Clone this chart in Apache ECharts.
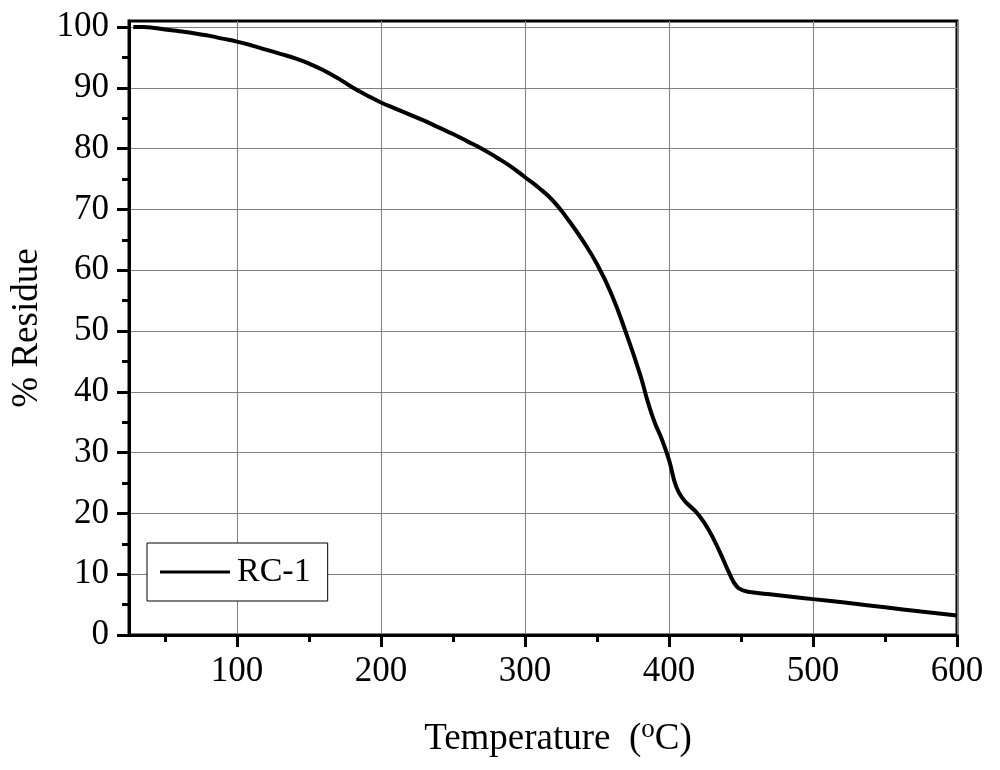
<!DOCTYPE html>
<html>
<head>
<meta charset="utf-8">
<script src="https://cdn.jsdelivr.net/npm/echarts@6/dist/echarts.min.js"></script>
<style>html,body{margin:0;padding:0;background:#fff}#chart{width:1000px;height:770px}</style>
</head>
<body>
<div id="chart"></div>
<script>
// Temperature (°C)
var temperature = [28, 35, 40, 50, 60, 70, 80, 90, 100, 110, 120, 130, 140, 150, 160, 170, 180, 190, 200, 210, 220, 230, 240, 250, 260, 270, 280, 290, 300, 310, 320, 330, 340, 350, 360, 370, 380, 385, 390, 395, 400, 405, 410, 415, 420, 427, 435, 442, 447, 452, 460, 470, 485, 500, 525, 550, 575, 600];
// % Residue
var residue = [100.0, 100.0, 99.95, 99.6, 99.3, 99.0, 98.6, 98.1, 97.6, 97.0, 96.3, 95.6, 94.9, 94.0, 92.9, 91.6, 90.1, 88.8, 87.6, 86.6, 85.6, 84.6, 83.5, 82.4, 81.2, 80.0, 78.6, 77.1, 75.3, 73.5, 71.3, 68.3, 64.9, 61.0, 56.1, 49.8, 42.8, 38.6, 35.0, 32.2, 28.8, 24.4, 22.3, 21.1, 19.9, 17.5, 13.8, 10.1, 8.0, 7.3, 6.95, 6.7, 6.3, 5.9, 5.25, 4.55, 3.85, 3.2];
var xMajorTicks = [100, 200, 300, 400, 500, 600];
var xMinorTicks = [50, 150, 250, 350, 450, 550];
var yMajorTicks = [0, 10, 20, 30, 40, 50, 60, 70, 80, 90, 100];
var yMinorTicks = [5, 15, 25, 35, 45, 55, 65, 75, 85, 95];
var seriesName = 'RC-1';

var data = temperature.map(function (t, i) { return [t, residue[i]]; });
var FONT = 'Liberation Serif';
var chart = echarts.init(document.getElementById('chart'));
chart.setOption({
  backgroundColor: '#fff',
  animation: false,
  grid: { left: 129, right: 43, top: 21, bottom: 135, show: true, borderColor: '#000', borderWidth: 3, backgroundColor: 'transparent' },
  legend: {
    left: 147, top: 543,
    padding: [12, 17, 12, 13],
    borderColor: '#000', borderWidth: 1, borderRadius: 0,
    backgroundColor: '#fff',
    icon: 'rect',
    itemWidth: 70, itemHeight: 3, itemGap: 5,
    textStyle: { fontFamily: FONT, fontSize: 34, color: '#000', padding: [0, 0, 0, 2] },
    data: [seriesName]
  },
  xAxis: [{
    type: 'value', min: 25, max: 600, position: 'bottom',
    name: 'Temperature  ({sup|o}C)', nameLocation: 'middle', nameGap: 81,
    nameTextStyle: { fontFamily: FONT, fontSize: 37, color: '#000', padding: [0, 0, 0, 30],
      rich: { sup: { fontFamily: FONT, fontSize: 27, color: '#000', padding: [0, 0, 20, 0] } } },
    axisLine: { show: true, onZero: false, lineStyle: { color: '#000', width: 3 } },
    axisTick: { show: true, customValues: xMajorTicks, length: 12, lineStyle: { color: '#000', width: 3 } },
    axisLabel: { customValues: xMajorTicks, fontFamily: FONT, fontSize: 35, color: '#000', margin: 19 },
    splitLine: { show: true, lineStyle: { color: '#808080', width: 1 } }
  }, {
    type: 'value', min: 25, max: 600, position: 'bottom',
    axisLine: { show: false },
    axisTick: { show: true, customValues: xMinorTicks, length: 7, lineStyle: { color: '#000', width: 3 } },
    axisLabel: { show: false },
    splitLine: { show: false }
  }],
  yAxis: [{
    type: 'value', min: 0, max: 101, interval: 10, position: 'left',
    name: '% Residue', nameLocation: 'middle', nameGap: 70,
    nameTextStyle: { fontFamily: FONT, fontSize: 37, color: '#000' },
    axisLine: { show: true, onZero: false, lineStyle: { color: '#000', width: 3 } },
    axisTick: { show: true, customValues: yMajorTicks, length: 12, lineStyle: { color: '#000', width: 3 } },
    axisLabel: { customValues: yMajorTicks, fontFamily: FONT, fontSize: 35, color: '#000', margin: 20 },
    splitLine: { show: true, lineStyle: { color: '#808080', width: 1 } }
  }, {
    type: 'value', min: 0, max: 101, interval: 10, position: 'left',
    axisLine: { show: false },
    axisTick: { show: true, customValues: yMinorTicks, length: 7, lineStyle: { color: '#000', width: 3 } },
    axisLabel: { show: false },
    splitLine: { show: false }
  }],
  series: [{
    name: seriesName, type: 'line', xAxisIndex: 0, yAxisIndex: 0,
    data: data, symbol: 'none', smooth: 0.5,
    lineStyle: { color: '#000', width: 4 },
    itemStyle: { color: '#000' }
  }]
});
</script>
</body>
</html>
